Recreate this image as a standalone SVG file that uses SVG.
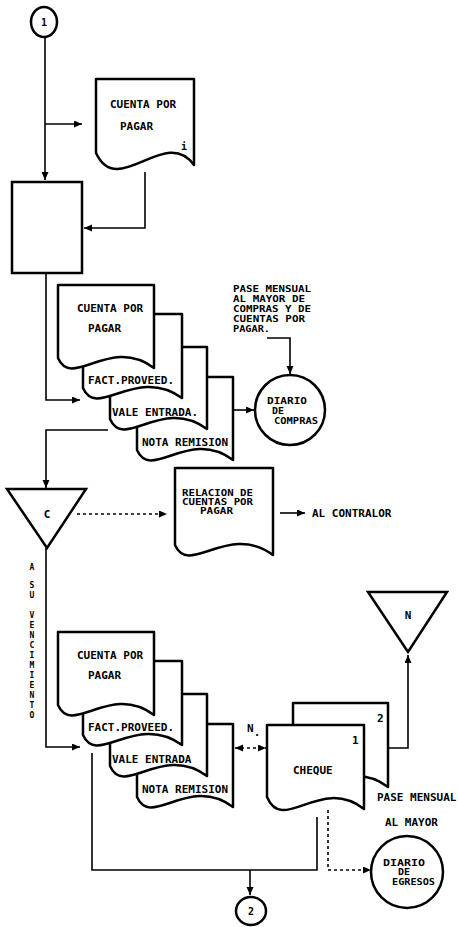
<svg xmlns="http://www.w3.org/2000/svg" width="458" height="927" viewBox="0 0 458 927">
<style>
.doc{fill:#fff;stroke:#000;stroke-width:2.5;stroke-linejoin:round}
.shape{fill:#fff;stroke:#000;stroke-width:2.5}
.ln{fill:none;stroke:#000;stroke-width:1.6}
.dot{stroke-dasharray:3 3}
text{font-family:"DejaVu Sans Mono","Liberation Mono",monospace;font-weight:bold;font-size:11px;fill:#000}
.sm{font-size:10px}
.t9{font-size:9px}
.t8{font-size:8px}
.mid{text-anchor:middle}
</style>
<defs>
<marker id="ah" markerUnits="userSpaceOnUse" markerWidth="9" markerHeight="8" refX="8" refY="3.5" orient="auto-start-reverse">
<path d="M0,0 L8,3.5 L0,7 Z" fill="#000"/>
</marker>
</defs>
<rect width="458" height="927" fill="#fff"/>

<g id="connectors">
<path class="ln" d="M45,37 V180" marker-end="url(#ah)"/>
<path class="ln" d="M45,124 H82" marker-end="url(#ah)"/>
<path class="ln" d="M145,172 V228 H84" marker-end="url(#ah)"/>
<path class="ln" d="M46,273 V400 H80" marker-end="url(#ah)"/>
<path class="ln" d="M233,410 H254" marker-end="url(#ah)"/>
<path class="ln" d="M267,338 H290 V374" marker-end="url(#ah)"/>
<path class="ln" d="M108,430 H46 V488" marker-end="url(#ah)"/>
<path class="ln dot" d="M77,514 H167" marker-end="url(#ah)"/>
<path class="ln" d="M280,513 H305" marker-end="url(#ah)"/>
<path class="ln" d="M46,548 V747 H80" marker-end="url(#ah)"/>
<path class="ln dot" d="M235,748 H266" marker-start="url(#ah)" marker-end="url(#ah)"/>
<path class="ln" d="M388,748 H408 V655" marker-end="url(#ah)"/>
<path class="ln dot" d="M328,810 V870 H371" marker-end="url(#ah)"/>
<path class="ln" d="M92,753 V870 H317 V817"/>
<path class="ln" d="M250,870 V895" marker-end="url(#ah)"/>
</g>

<g id="start1">
<ellipse class="shape" cx="44" cy="22" rx="13" ry="15"/>
<text class="sm mid" x="44" y="26">1</text>
</g>

<g id="doc-cuenta-top">
<path class="doc" d="M96,79 H194 V165 C165,125 118,200 96,153 Z"/>
<text x="110" y="108">CUENTA POR</text>
<text x="120" y="130">PAGAR</text>
<text class="sm" x="181" y="150">i</text>
</g>

<g id="process">
<rect class="shape" x="12" y="182" width="70" height="91"/>
</g>

<g id="stack1">
<path class="doc" d="M137,377 H233 V460 C189,427 151,482 137,450 Z"/>
<path class="doc" d="M110,347 H207 V429 C162,396 124,451 110,419 Z"/>
<path class="doc" d="M83,314 H182 V398 C136,365 97,420 83,388 Z"/>
<path class="doc" d="M58,285 H154 V368 C110,335 72,390 58,358 Z"/>
<text x="77" y="312">CUENTA POR</text>
<text x="88" y="332">PAGAR</text>
<text x="88" y="384">FACT.PROVEED.</text>
<text x="112" y="416">VALE ENTRADA.</text>
<text x="142" y="446">NOTA REMISION</text>
</g>

<g id="note-compras">
<text class="t9" x="233" y="292" textLength="78" lengthAdjust="spacingAndGlyphs">PASE MENSUAL</text>
<text class="t9" x="233" y="302" textLength="72" lengthAdjust="spacingAndGlyphs">AL MAYOR DE</text>
<text class="t9" x="233" y="312" textLength="78" lengthAdjust="spacingAndGlyphs">COMPRAS Y DE</text>
<text class="t9" x="233" y="322" textLength="72" lengthAdjust="spacingAndGlyphs">CUENTAS POR</text>
<text class="t9" x="233" y="332" textLength="37" lengthAdjust="spacingAndGlyphs">PAGAR.</text>
</g>

<g id="diario-compras">
<circle class="shape" cx="290" cy="410" r="35"/>
<text class="t9" x="267" y="404" textLength="40" lengthAdjust="spacingAndGlyphs">DIARIO</text>
<text class="t9" x="272" y="414" textLength="12" lengthAdjust="spacingAndGlyphs">DE</text>
<text class="t9" x="274" y="424" textLength="44" lengthAdjust="spacingAndGlyphs">COMPRAS</text>
</g>

<g id="file-c">
<polygon class="shape" points="7,489 86,489 47,548"/>
<text class="mid" x="47" y="518">C</text>
</g>

<g id="doc-relacion">
<path class="doc" d="M175,468 H273 V555 C228,522 189,577 175,545 Z"/>
<text class="t8" x="182" y="496" textLength="71" lengthAdjust="spacingAndGlyphs">RELACION DE</text>
<text class="t8" x="182" y="505" textLength="71" lengthAdjust="spacingAndGlyphs">CUENTAS POR</text>
<text class="t8" x="200" y="514" textLength="33" lengthAdjust="spacingAndGlyphs">PAGAR</text>
</g>

<g id="contralor">
<text x="312" y="517">AL CONTRALOR</text>
</g>

<g id="label-vencimiento">
<text class="t8 mid" x="32" y="570">A</text>
<text class="t8 mid" x="32" y="588">S</text>
<text class="t8 mid" x="32" y="598">U</text>
<text class="t8 mid" x="32" y="618">V</text>
<text class="t8 mid" x="32" y="628">E</text>
<text class="t8 mid" x="32" y="638">N</text>
<text class="t8 mid" x="32" y="648">C</text>
<text class="t8 mid" x="32" y="658">I</text>
<text class="t8 mid" x="32" y="668">M</text>
<text class="t8 mid" x="32" y="678">I</text>
<text class="t8 mid" x="32" y="688">E</text>
<text class="t8 mid" x="32" y="698">N</text>
<text class="t8 mid" x="32" y="708">T</text>
<text class="t8 mid" x="32" y="718">O</text>
</g>

<g id="stack2">
<path class="doc" d="M137,724 H233 V807 C189,774 151,829 137,797 Z"/>
<path class="doc" d="M110,694 H207 V776 C162,743 124,798 110,766 Z"/>
<path class="doc" d="M83,661 H182 V745 C136,712 97,767 83,735 Z"/>
<path class="doc" d="M58,632 H154 V715 C110,682 72,737 58,705 Z"/>
<text x="77" y="659">CUENTA POR</text>
<text x="88" y="679">PAGAR</text>
<text x="88" y="731">FACT.PROVEED.</text>
<text x="112" y="763">VALE ENTRADA</text>
<text x="142" y="793">NOTA REMISION</text>
</g>

<g id="label-n">
<text x="247" y="732">N<tspan dy="4">.</tspan></text>
</g>

<g id="file-n">
<polygon class="shape" points="368,592 447,592 408,652"/>
<text class="mid" x="408" y="619">N</text>
</g>

<g id="cheque">
<path class="doc" d="M293,703 H388 V787 C344,754 307,809 293,777 Z"/>
<path class="doc" d="M267,725 H364 V809 C320,775 283,835 267,797 Z"/>
<text x="377" y="722">2</text>
<text x="352" y="744">1</text>
<text x="293" y="774">CHEQUE</text>
</g>

<g id="note-egresos">
<text x="377" y="801">PASE MENSUAL</text>
<text x="385" y="826">AL MAYOR</text>
</g>

<g id="diario-egresos">
<circle class="shape" cx="407" cy="872" r="36"/>
<text class="t9" x="383" y="866" textLength="42" lengthAdjust="spacingAndGlyphs">DIARIO</text>
<text class="t9" x="398" y="875" textLength="12" lengthAdjust="spacingAndGlyphs">DE</text>
<text class="t9" x="392" y="885" textLength="43" lengthAdjust="spacingAndGlyphs">EGRESOS</text>
</g>

<g id="end2">
<ellipse class="shape" cx="251" cy="911" rx="15" ry="14"/>
<text class="sm mid" x="251" y="915">2</text>
</g>
</svg>
